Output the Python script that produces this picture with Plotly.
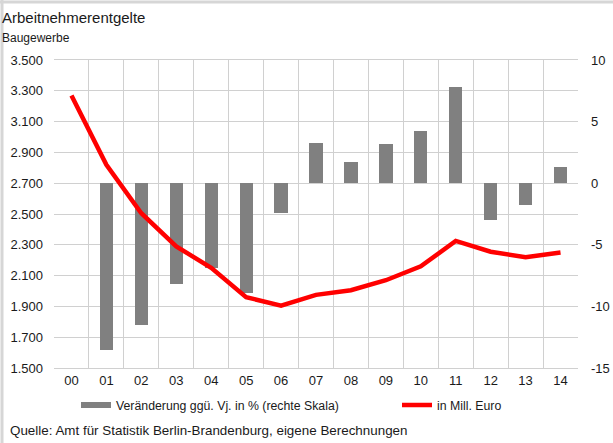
import plotly.graph_objects as go

# Arbeitnehmerentgelte im Baugewerbe, Jahre 2000-2014
jahre = ["00", "01", "02", "03", "04", "05", "06", "07", "08", "09", "10", "11", "12", "13", "14"]
mio_euro = [3270, 2820, 2505, 2290, 2150, 1960, 1905, 1975, 2005, 2070, 2160, 2325, 2255, 2220, 2250]
veraenderung = [None, -13.5, -11.5, -8.2, -6.9, -8.9, -2.4, 3.3, 1.7, 3.2, 4.2, 7.8, -3.0, -1.8, 1.3]

links_ticks = [1500, 1700, 1900, 2100, 2300, 2500, 2700, 2900, 3100, 3300, 3500]
rechts_ticks = [-15, -10, -5, 0, 5, 10]
rechts_text = ["-15", "-10", "-5", "0", "5", "10"]

W, H = 613, 443
L, R, T, B = 54, 35, 60, 75
pw, ph = W - L - R, H - T - B

def px(x):
    return (x - L) / pw

def py(y):
    return (H - B - y) / ph

GRID = "#d0d0d0"
TXT = "#1a1a1a"
FONT = "Liberation Sans, Arial, sans-serif"

fig = go.Figure()

# Balken: Veränderung gegenüber Vorjahr (rechte Skala)
fig.add_trace(go.Bar(
    x=jahre, y=veraenderung, yaxis="y",
    marker=dict(color="#808080", line=dict(width=0)),
    width=0.38, showlegend=False, hoverinfo="x+y",
))
# Legendeneintrag für die Balken als breites Rechteck
fig.add_trace(go.Scatter(
    x=[None], y=[None], mode="lines", yaxis="y",
    line=dict(color="#808080", width=6),
    name="Veränderung ggü. Vj. in % (rechte Skala)",
    legend="legend",
))
# Linie: in Mill. Euro (linke Skala)
fig.add_trace(go.Scatter(
    x=jahre, y=mio_euro, yaxis="y2", mode="lines",
    line=dict(color="#ff0000", width=4.5),
    name="in Mill. Euro",
    legend="legend2",
))

legend_common = dict(
    orientation="h", xanchor="left", yanchor="middle",
    font=dict(size=12.3, color=TXT), bgcolor="rgba(0,0,0,0)",
    itemclick=False, itemdoubleclick=False,
)

fig.update_layout(
    width=W, height=H,
    margin=dict(l=L, r=R, t=T, b=B, pad=0, autoexpand=False),
    paper_bgcolor="white", plot_bgcolor="white",
    separators=",.",
    font=dict(family=FONT, size=13, color=TXT),
    bargap=0,
    xaxis=dict(
        type="category", tickson="boundaries",
        showgrid=True, gridcolor=GRID, gridwidth=1,
        showline=True, linecolor=GRID, linewidth=1, mirror=True,
        ticks="", tickfont=dict(size=13, color=TXT),
        range=[-0.5, 14.5],
    ),
    yaxis=dict(
        side="right", range=[-15, 10],
        tickvals=rechts_ticks, ticktext=rechts_text,
        showgrid=False, zeroline=False, showline=False,
        ticks="", ticklabelstandoff=12,
        tickfont=dict(size=13, color=TXT),
    ),
    yaxis2=dict(
        overlaying="y", side="left", range=[1500, 3500],
        tickvals=links_ticks, tickformat=",d",
        showgrid=True, gridcolor=GRID, gridwidth=1,
        zeroline=False, showline=False,
        ticks="", ticklabelstandoff=10,
        tickfont=dict(size=13, color=TXT),
    ),
    legend=dict(x=px(76), y=py(405), **legend_common),
    legend2=dict(x=px(397), y=py(405), **legend_common),
    annotations=[
        dict(text="Arbeitnehmerentgelte", xref="paper", yref="paper",
             x=px(0), y=py(17), xanchor="left", yanchor="middle",
             showarrow=False, font=dict(size=15, color=TXT)),
        dict(text="Baugewerbe", xref="paper", yref="paper",
             x=px(0), y=py(38), xanchor="left", yanchor="middle",
             showarrow=False, font=dict(size=12, color=TXT)),
        dict(text="Quelle: Amt für Statistik Berlin-Brandenburg, eigene Berechnungen",
             xref="paper", yref="paper",
             x=px(8), y=py(430), xanchor="left", yanchor="middle",
             showarrow=False, font=dict(size=13.4, color=TXT)),
    ],
    shapes=[
        dict(type="line", xref="paper", yref="paper",
             x0=px(0), x1=px(W), y0=py(2), y1=py(2),
             line=dict(color="#d6d6d6", width=3)),
        dict(type="line", xref="paper", yref="paper",
             x0=px(2), x1=px(2), y0=py(0), y1=py(H),
             line=dict(color="#d6d6d6", width=3)),
    ],
)

fig.write_html("out.html")
